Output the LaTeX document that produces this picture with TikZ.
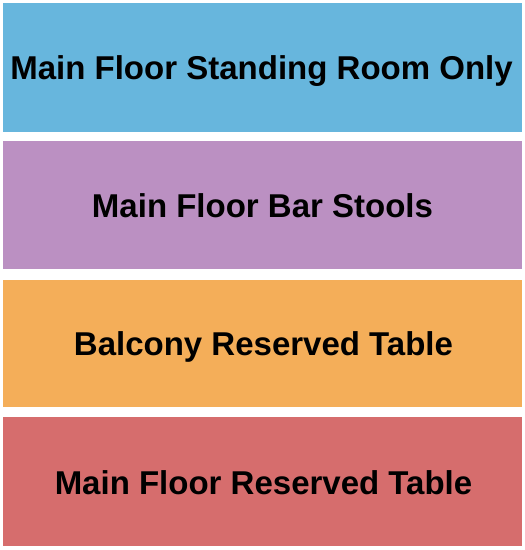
\documentclass[tikz,border=0pt]{standalone}
\usepackage{fontspec}
\setmainfont{Liberation Sans}
\definecolor{cblue}{HTML}{67B6DD}
\definecolor{cpurple}{HTML}{BB90C2}
\definecolor{corange}{HTML}{F4AE59}
\definecolor{cred}{HTML}{D66D6D}
\begin{document}
\begin{tikzpicture}[x=1pt,y=-1pt,
  band/.style={inner sep=0pt, outer sep=0pt},
  lbl/.style={anchor=base, inner sep=0pt, font=\fontsize{33}{36}\selectfont\bfseries, text=black}]
\useasboundingbox (0,0) rectangle (525,550);
\fill[cblue] (3,3) rectangle (522,132);
\fill[cpurple] (3,141) rectangle (522,269);
\fill[corange] (3,280) rectangle (522,407);
\fill[cred] (3,417) rectangle (522,546);
\node[lbl] (l1) at (261.5,79) {Main Floor Standing Room Only};
\node[lbl] (l2) at (262.5,217) {Main Floor Bar Stools};
\node[lbl] (l3) at (263.5,355) {Balcony Reserved Table};
\node[lbl] (l4) at (263.5,494) {Main Floor Reserved Table};
\end{tikzpicture}
\end{document}
